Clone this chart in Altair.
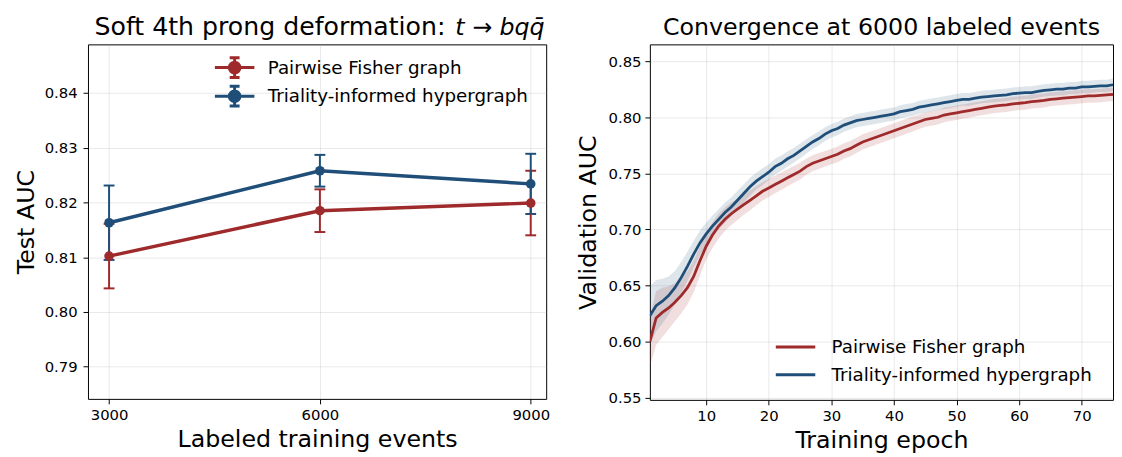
import altair as alt
import pandas as pd

FONT = "DejaVu Sans"
series = ["Pairwise Fisher graph", "Triality-informed hypergraph"]
colors = ["#9e2a2b", "#1f4e79"]

# ---- left panel data ----
events = [3000, 6000, 9000]
pair_auc = [0.8102, 0.8185, 0.8199]
pair_err = [0.0059, 0.0039, 0.0059]
tri_auc = [0.8163, 0.8258, 0.8234]
tri_err = [0.0068, 0.0029, 0.0055]
left_yticks = [0.79, 0.80, 0.81, 0.82, 0.83, 0.84]

# ---- right panel data ----
epochs = list(range(1, 76))
pair_mean = [0.600, 0.621, 0.626, 0.630, 0.635, 0.641, 0.648, 0.658, 0.672, 0.685,
             0.695, 0.703, 0.709, 0.714, 0.718, 0.722, 0.726, 0.730, 0.734, 0.737,
             0.740, 0.743, 0.746, 0.749, 0.752, 0.756, 0.759, 0.761, 0.763, 0.765,
             0.767, 0.770, 0.772, 0.775, 0.778, 0.780, 0.782, 0.784, 0.786, 0.788,
             0.790, 0.792, 0.794, 0.796, 0.798, 0.799, 0.800, 0.802, 0.803, 0.804,
             0.805, 0.806, 0.807, 0.808, 0.809, 0.810, 0.8105, 0.811, 0.812, 0.8125,
             0.813, 0.814, 0.8145, 0.815, 0.816, 0.8165, 0.817, 0.8175, 0.818, 0.8185,
             0.819, 0.819, 0.8195, 0.820, 0.8205]
pair_std = [0.022, 0.024, 0.022, 0.019, 0.017, 0.016, 0.015, 0.014, 0.013, 0.012,
            0.0115, 0.011, 0.0105, 0.010, 0.0095, 0.009, 0.0088, 0.0085, 0.0082, 0.008,
            0.0078, 0.0077, 0.0076, 0.0075, 0.0074, 0.0073, 0.0072, 0.0071, 0.0070, 0.0070,
            0.0070, 0.0069, 0.0069, 0.0068, 0.0068, 0.0068, 0.0067, 0.0067, 0.0067, 0.0066,
            0.0066, 0.0066, 0.0066, 0.0065, 0.0065, 0.0065, 0.0065, 0.0065, 0.0064, 0.0064,
            0.0064, 0.0064, 0.0064, 0.0063, 0.0063, 0.0063, 0.0063, 0.0063, 0.0062, 0.0062,
            0.0062, 0.0062, 0.0062, 0.0062, 0.0061, 0.0061, 0.0061, 0.0061, 0.0061, 0.0060,
            0.0060, 0.0060, 0.0060, 0.0060, 0.0060]
tri_mean = [0.623, 0.632, 0.636, 0.641, 0.648, 0.657, 0.667, 0.678, 0.688, 0.696,
            0.703, 0.709, 0.715, 0.720, 0.726, 0.732, 0.738, 0.743, 0.747, 0.751,
            0.756, 0.759, 0.763, 0.766, 0.770, 0.774, 0.778, 0.781, 0.785, 0.788,
            0.790, 0.793, 0.795, 0.797, 0.798, 0.799, 0.800, 0.801, 0.802, 0.803,
            0.805, 0.806, 0.807, 0.809, 0.810, 0.811, 0.812, 0.813, 0.814, 0.815,
            0.816, 0.816, 0.817, 0.818, 0.8185, 0.819, 0.8195, 0.820, 0.821, 0.8215,
            0.822, 0.822, 0.823, 0.824, 0.8245, 0.825, 0.825, 0.826, 0.826, 0.827,
            0.827, 0.8275, 0.828, 0.828, 0.829]
tri_std = [0.026, 0.023, 0.020, 0.017, 0.015, 0.014, 0.013, 0.012, 0.011, 0.010,
           0.0095, 0.009, 0.009, 0.0085, 0.0085, 0.008, 0.008, 0.0075, 0.0075, 0.007,
           0.007, 0.007, 0.0068, 0.0066, 0.0065, 0.0064, 0.0063, 0.0062, 0.0061, 0.0060,
           0.0060, 0.0060, 0.0060, 0.0059, 0.0059, 0.0059, 0.0059, 0.0059, 0.0058, 0.0058,
           0.0058, 0.0058, 0.0058, 0.0058, 0.0057, 0.0057, 0.0057, 0.0057, 0.0057, 0.0057,
           0.0057, 0.0057, 0.0056, 0.0056, 0.0056, 0.0056, 0.0056, 0.0056, 0.0056, 0.0056,
           0.0056, 0.0056, 0.0056, 0.0055, 0.0055, 0.0055, 0.0055, 0.0055, 0.0055, 0.0055,
           0.0055, 0.0055, 0.0055, 0.0055, 0.0055]
right_xticks = [10, 20, 30, 40, 50, 60, 70]
right_yticks = [0.55, 0.60, 0.65, 0.70, 0.75, 0.80, 0.85]

left_df = pd.DataFrame({
    "events": events * 2,
    "auc": pair_auc + tri_auc,
    "err": pair_err + tri_err,
    "model": [series[0]] * 3 + [series[1]] * 3,
})
left_df["lo"] = left_df["auc"] - left_df["err"]
left_df["hi"] = left_df["auc"] + left_df["err"]

right_df = pd.DataFrame({
    "epoch": epochs * 2,
    "auc": pair_mean + tri_mean,
    "std": pair_std + tri_std,
    "model": [series[0]] * 75 + [series[1]] * 75,
})
right_df["lo"] = right_df["auc"] - right_df["std"]
right_df["hi"] = right_df["auc"] + right_df["std"]

LW, LH = 464, 359
RW, RH = 469, 360
TFS = 24  # title / axis-title font size

cscale = alt.Scale(domain=series, range=colors)

leg_path_left = ("M-2,0H2M0,-1V1M-0.5,-1H0.5M-0.5,1H0.5"
                 "M-0.54,0A0.54,0.54,0,1,1,0.54,0A0.54,0.54,0,1,1,-0.54,0Z")
leg_left = alt.Legend(
    title=None, orient="none", legendX=137, legendY=12,
    symbolType=leg_path_left, symbolSize=400, symbolStrokeWidth=3,
    symbolOpacity=1, labelFontSize=18.5, labelFont=FONT, labelLimit=0,
    labelColor="black", labelOffset=22, rowPadding=-4, padding=0)
leg_right = alt.Legend(
    title=None, orient="none", legendX=136, legendY=295,
    symbolType="M-2,0H2", symbolSize=400, symbolStrokeWidth=3,
    symbolOpacity=1, labelFontSize=18.5, labelFont=FONT, labelColor="black",
    labelLimit=0, labelOffset=25, rowPadding=7, padding=0)

xl_scale = alt.Scale(domain=[2700, 9220], nice=False, zero=False)
yl_scale = alt.Scale(domain=[0.7841, 0.8489], nice=False, zero=False)
xl_axis = alt.Axis(values=events, format="d", title="Labeled training events",
                   labelPadding=4, titlePadding=5)
yl_axis = alt.Axis(values=left_yticks, format=".2f", title="Test AUC",
                   labelPadding=6, titlePadding=6)

base_l = alt.Chart(left_df)
err_l = base_l.mark_errorbar(ticks=True, size=11, thickness=2, opacity=1).encode(
    x=alt.X("events:Q", scale=xl_scale, axis=xl_axis),
    y=alt.Y("lo:Q", scale=yl_scale, axis=yl_axis),
    y2="hi:Q",
    color=alt.Color("model:N", scale=cscale, legend=leg_left),
)
line_l = base_l.mark_line(strokeWidth=3.5).encode(
    x=alt.X("events:Q", scale=xl_scale, axis=xl_axis),
    y=alt.Y("auc:Q", scale=yl_scale, axis=yl_axis),
    color=alt.Color("model:N", scale=cscale, legend=leg_left),
)
pt_l = base_l.mark_point(filled=True, size=95, opacity=1).encode(
    x=alt.X("events:Q", scale=xl_scale, axis=xl_axis),
    y=alt.Y("auc:Q", scale=yl_scale, axis=yl_axis),
    fill=alt.Fill("model:N", scale=cscale, legend=leg_left),
)
title_l = alt.Chart(pd.DataFrame({"t": ["Soft 4th prong deformation:"]})).mark_text(
    font=FONT, fontSize=25.5, align="right", baseline="alphabetic", color="black"
).encode(x=alt.value(362), y=alt.value(-10), text="t:N")
title_l2 = alt.Chart(pd.DataFrame({"t": ["t \u2192 bq\u0071\u0304"]})).mark_text(
    font=FONT, fontSize=TFS, fontStyle="italic", align="left", baseline="alphabetic", color="black"
).encode(x=alt.value(372), y=alt.value(-10), text="t:N")

left = alt.layer(err_l, line_l, pt_l, title_l, title_l2).properties(width=LW, height=LH)

xr_scale = alt.Scale(domain=[1, 75], nice=False, zero=False)
yr_scale = alt.Scale(domain=[0.548, 0.865], nice=False, zero=False)
xr_axis = alt.Axis(values=right_xticks, format="d", title="Training epoch",
                   labelPadding=4, titlePadding=5)
yr_axis = alt.Axis(values=right_yticks, format=".2f", title="Validation AUC",
                   labelPadding=4, titlePadding=8)

base_r = alt.Chart(right_df)
band_r = base_r.mark_area(opacity=0.15, clip=True).encode(
    x=alt.X("epoch:Q", scale=xr_scale, axis=xr_axis),
    y=alt.Y("lo:Q", scale=yr_scale, axis=yr_axis),
    y2="hi:Q",
    fill=alt.Fill("model:N", scale=cscale, legend=leg_right),
)
line_r = base_r.mark_line(strokeWidth=2.8, clip=True).encode(
    x=alt.X("epoch:Q", scale=xr_scale, axis=xr_axis),
    y=alt.Y("auc:Q", scale=yr_scale, axis=yr_axis),
    color=alt.Color("model:N", scale=cscale, legend=leg_right),
)
title_r = alt.Chart(pd.DataFrame({"t": ["Convergence at 6000 labeled events"]})).mark_text(
    font=FONT, fontSize=TFS, align="center", baseline="alphabetic", color="black"
).encode(x=alt.value(RW / 2), y=alt.value(-10), text="t:N")

right = alt.layer(band_r, line_r, title_r).properties(width=RW, height=RH)

chart = alt.hconcat(left, right, spacing=105, bounds="flush").resolve_scale(
    color="independent", fill="independent"
).properties(
    padding={"left": 6, "top": 3, "right": 0, "bottom": 0}
).configure_view(stroke="black", strokeWidth=1).configure_axis(
    labelFont=FONT, titleFont=FONT, labelFontSize=15, titleFontSize=TFS,
    titleFontWeight="normal", labelColor="black", titleColor="black",
    tickColor="black", tickSize=5, domain=False,
    gridColor="#b0b0b0", gridOpacity=0.35, gridWidth=0.8,
)

chart.save("out.html", embed_options={"renderer": "svg", "actions": False})
